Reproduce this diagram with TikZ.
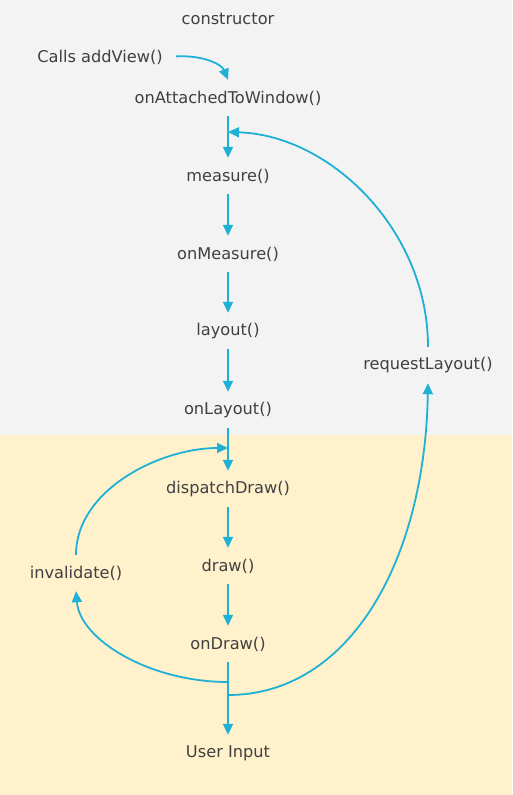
\documentclass[tikz,border=0pt]{standalone}
\usepackage{fontspec}
\setmainfont{DejaVu Sans}
\usetikzlibrary{arrows.meta}
\definecolor{topbg}{RGB}{243,243,243}
\definecolor{botbg}{RGB}{255,241,204}
\definecolor{lineblue}{RGB}{31,176,214}
\definecolor{txt}{RGB}{64,64,64}
\tikzset{
  lbl/.style={text=txt, font=\fontsize{16.2}{18}\selectfont, inner sep=0pt, minimum height=36pt},
  arr/.style={draw=lineblue, line width=1.8pt, -{Triangle[length=11pt,width=10pt]}},
  ln/.style={draw=lineblue, line width=1.8pt}
}
\begin{document}
\begin{tikzpicture}[x=1pt,y=-1pt]
\useasboundingbox (0,0) rectangle (512,795);
\fill[topbg] (0,0) rectangle (512,435);
\fill[botbg] (0,435) rectangle (512,795);

\node[lbl] (ctor) at (228,19) {constructor};
\node[lbl] (addview) at (100,57) {Calls addView()};
\node[lbl] (oatw) at (228,98) {onAttachedToWindow()};
\node[lbl] (measure) at (228,176) {measure()};
\node[lbl] (onmeasure) at (228,254) {onMeasure()};
\node[lbl] (layout) at (228,331) {layout()};
\node[lbl] (onlayout) at (228,410) {onLayout()};
\node[lbl] (reqlayout) at (428,365) {requestLayout()};
\node[lbl] (dispatch) at (228,489) {dispatchDraw()};
\node[lbl] (draw) at (228,566) {draw()};
\node[lbl] (invalidate) at (76,573) {invalidate()};
\node[lbl] (ondraw) at (228,644) {onDraw()};
\node[lbl] (userinput) at (228,753) {User Input};

\coordinate (m1) at (228,132);
\coordinate (m2) at (228,448);
\coordinate (j1) at (228,682);
\coordinate (j2) at (228,695);

\draw[arr, shorten <=13pt] (addview.east) .. controls (205,55) and (222,65) .. (oatw.north);
\draw[arr] (oatw.south) -- (measure.north);
\draw[arr] (measure.south) -- (onmeasure.north);
\draw[arr] (onmeasure.south) -- (layout.north);
\draw[arr] (layout.south) -- (onlayout.north);
\draw[arr] (onlayout.south) -- (dispatch.north);
\draw[arr] (dispatch.south) -- (draw.north);
\draw[arr] (draw.south) -- (ondraw.north);
\draw[arr] (ondraw.south) -- (userinput.north);

\draw[arr] (reqlayout.north) .. controls (428,230) and (330,135) .. (m1);
\draw[arr] (invalidate.north) .. controls (76,490) and (160,448) .. (m2);
\draw[arr] (j1) .. controls (150,682) and (80,640) .. (invalidate.south);
\draw[arr] (j2) .. controls (350,695) and (425,560) .. (reqlayout.south);
\end{tikzpicture}
\end{document}
